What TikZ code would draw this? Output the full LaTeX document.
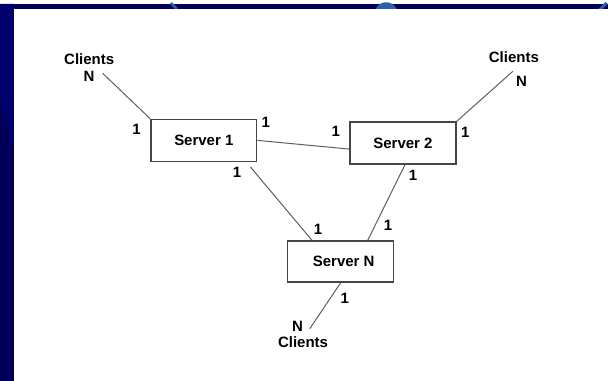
\documentclass[tikz,border=0pt]{standalone}
\usepackage{fontspec}
\setmainfont{Liberation Sans}
\usetikzlibrary{positioning}

\definecolor{slidenavy}{RGB}{0,0,88}
\definecolor{slidenavytop}{RGB}{0,0,108}
\definecolor{slideblue}{RGB}{45,95,165}
\definecolor{boxgray}{RGB}{70,70,70}
\definecolor{linkgray}{RGB}{95,95,95}

\tikzset{
    server/.style={draw=boxgray, line width=1.3pt, fill=white, minimum width=106pt,
        minimum height=42pt, inner sep=0pt, font=\bfseries\fontsize{15}{17}\selectfont},
    lbl/.style={inner sep=0pt, font=\bfseries\fontsize{15}{17}\selectfont},
    link/.style={draw=linkgray, line width=1pt}
}

\begin{document}
\begin{tikzpicture}[x=1pt,y=-1pt]
    % Slide background
    \fill[slidenavy] (0,0) rectangle (608,377);
    \fill[slidenavytop] (0,0) -- (14,0) -- (14,143) -- (0,97) -- cycle;
    \draw[slideblue, line width=2.5pt] (171,-1) -- (177,5);
    \fill[slideblue] (376,5) .. controls (380,-4) and (393,-4) .. (397,5) -- cycle;
    \draw[slideblue, line width=3pt] (600,6) -- (607,-1);
    \fill[white] (14,5) rectangle (608,377);
    \useasboundingbox (0,0) rectangle (608,377);

    % Servers
    \node[server] (s1) at (204,136.5) {Server 1};
    \node[server] (s2) at (403.3,139.2) {Server 2};
    \node[server, minimum height=41pt] (sn) at (341,257.8) {\hspace{6pt}Server N};

    % Clients
    \node[lbl] (cl1) at (89.3,55) {Clients};
    \node[lbl] (cn1) at (89,72) {N};
    \node[lbl] (cl2) at (514.3,53.3) {Clients};
    \node[lbl] (cn2) at (522,77.7) {N};
    \node[lbl] (cn3) at (297.7,322.7) {N};
    \node[lbl] (cl3) at (303.3,338.3) {Clients};
    \coordinate (c1) at (102.7,69.3);
    \coordinate (c2) at (513.3,67.3);
    \coordinate (c3) at (310,325);

    % Links
    \draw[link] (c1) -- (s1.north west);
    \draw[link] (c2) -- (s2.north east);
    \draw[link] (s1.east) -- ([yshift=-6pt]s2.west);
    \draw[link] ([xshift=-7pt,yshift=-5pt]s1.south east) -- ([xshift=25pt]sn.north west);
    \draw[link] ([xshift=2pt]s2.south) -- ([xshift=27pt]sn.north);
    \draw[link] (sn.south) -- (c3);

    % Cardinalities
    \node[lbl] (m1) at (136.7,125) {1};
    \node[lbl] (m2) at (266,118) {1};
    \node[lbl] (m3) at (237.3,168) {1};
    \node[lbl] (m4) at (336,127.7) {1};
    \node[lbl] (m5) at (465.7,128.3) {1};
    \node[lbl] (m6) at (413.3,171.7) {1};
    \node[lbl] (m7) at (318.3,226) {1};
    \node[lbl] (m8) at (388.3,221.7) {1};
    \node[lbl] (m9) at (345,295) {1};
\end{tikzpicture}
\end{document}
